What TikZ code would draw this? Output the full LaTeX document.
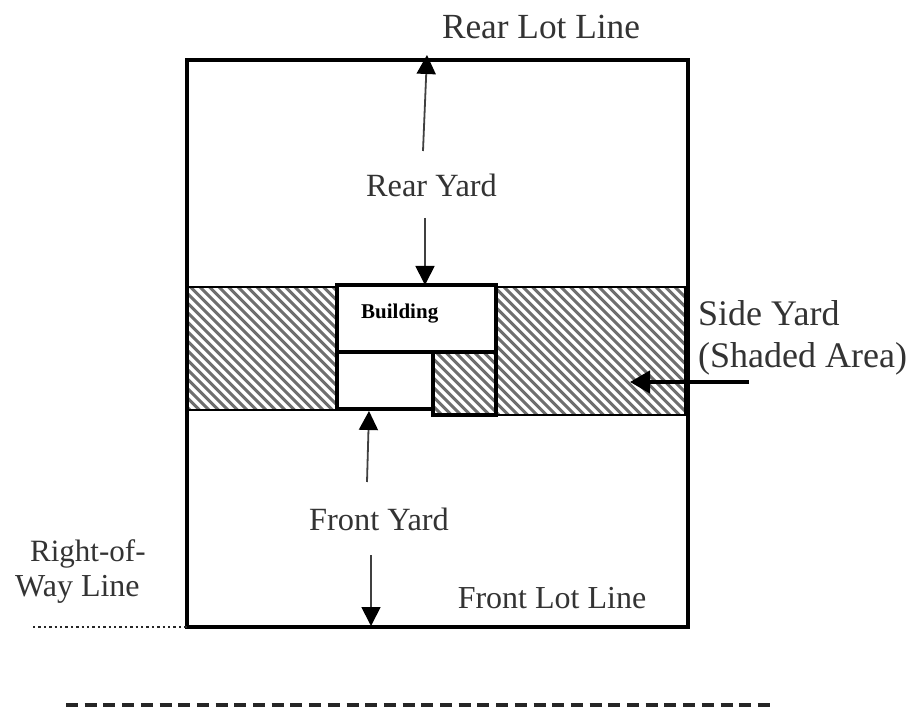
\documentclass[tikz,border=0pt]{standalone}
\usepackage{fontspec}
\setmainfont{Liberation Serif}
\usetikzlibrary{arrows.meta}
\definecolor{txt}{HTML}{333333}
\definecolor{hatchc}{HTML}{6E6E6E}
\tikzset{
  lot/.style={draw=black,line width=3.1pt,fill=white},
  wall/.style={draw=black,line width=3.1pt},
  hatchbox/.style={draw=black,line width=2.9pt},
  lbl/.style={text=txt,inner sep=0pt,font=\fontsize{32.4}{36}\selectfont},
  lblc/.style={text=txt,inner sep=0pt,font=\fontsize{31}{36}\selectfont},
  lbld/.style={text=txt,inner sep=0pt,font=\fontsize{32}{36}\selectfont},
  lble/.style={text=txt,inner sep=0pt,font=\fontsize{35.3}{38}\selectfont},
  lblb/.style={text=txt,inner sep=0pt,font=\fontsize{36}{38}\selectfont},
  dim/.style={draw=black!75,line width=1.8pt,-{Triangle[length=19pt,width=19pt,black]}},
  sidearrow/.style={draw=black,line width=4.2pt,-{Triangle[length=20pt,width=22pt]}},
}
\newcommand{\hatcharea}[4]{%
  \begin{scope}
    \clip (#1,#2) rectangle (#3,#4);
    \foreach \k in {-140,-130.5,...,720}{
      \draw[hatchc,line width=3pt] (\k,270) -- (\k+170,440);
    }
  \end{scope}}
\begin{document}
\begin{tikzpicture}[x=1pt,y=-1pt]
\useasboundingbox (0,0) rectangle (911,708);
\fill[white] (0,0) rectangle (911,708);
% lot
\node[lot,minimum width=501pt,minimum height=567pt,inner sep=0pt,outer sep=0pt,anchor=north west] (lotbox) at (187,60) {};
% hatching
\hatcharea{187}{287}{337}{410}
\hatcharea{433}{352}{496}{415}
\hatcharea{496}{287}{687}{415}
\draw[hatchbox] (187,287) -- (337,287) (187,410) -- (337,410);
\draw[hatchbox] (496,287) -- (687,287) (496,415) -- (687,415);
\draw[line width=4.5pt] (686,287) -- (686,415);
\draw[line width=3.1pt] (187,60) -- (187,627);
% building
\node[wall,minimum width=159pt,minimum height=67pt,inner sep=0pt,outer sep=0pt,anchor=north west,fill=white] (building) at (337,285) {};
\node[wall,minimum width=96pt,minimum height=57pt,inner sep=0pt,outer sep=0pt,anchor=north west,fill=white] (entry) at (337,352) {};
\node[wall,minimum width=63pt,minimum height=63pt,inner sep=0pt,outer sep=0pt,anchor=north west] (wing) at (433,352) {};
\node[anchor=west,inner sep=0pt,font=\fontsize{21}{24}\selectfont\bfseries,text=black] (buildlbl) at (361,314) {Building};
% labels
\node[lble] (rearlot) at (541,27) {Rear Lot Line};
\node[lbl] (rearyard) at (431.5,185) {Rear Yard};
\node[lbl] (frontyard) at (379,519) {Front Yard};
\node[lbl,font=\fontsize{32}{36}\selectfont] (frontlot) at (552,598) {Front Lot Line};
\node[lblc,anchor=west] (row1) at (30,554) {Right-of-};
\node[lbld,anchor=west] (row2) at (15,589) {Way Line};
\node[lblb,anchor=west] (side1) at (698,313.5) {Side Yard};
\node[lblb,anchor=west] (side2) at (698,359) {(Shaded Area)};
% connector ends
\coordinate (rt) at (427,55);
\coordinate (rs) at (423,151);
\coordinate (ds) at (425,218);
\coordinate (dt) at (425,285);
\coordinate (ft) at (369,411);
\coordinate (fs) at (367,482);
\coordinate (gs) at (371,555);
\coordinate (gt) at (371,626);
\coordinate (ss) at (749,382);
\coordinate (st) at (630,382);
\coordinate (dota) at (33,627);
\coordinate (dashl) at (66,705);
\coordinate (dashr) at (770,705);
\draw[dim] (rs) -- (rt);
\draw[dim] (ds) -- (dt);
\draw[dim] (fs) -- (ft);
\draw[dim] (gs) -- (gt);
\draw[sidearrow] (ss) -- (st);
\draw[line width=2.2pt,dash pattern=on 2.4pt off 3pt,black!85] (dota) -- (lotbox.south west);
\draw[line width=3.2pt,dash pattern=on 12pt off 6.7pt,black!85] (dashl) -- (dashr);
\end{tikzpicture}
\end{document}
